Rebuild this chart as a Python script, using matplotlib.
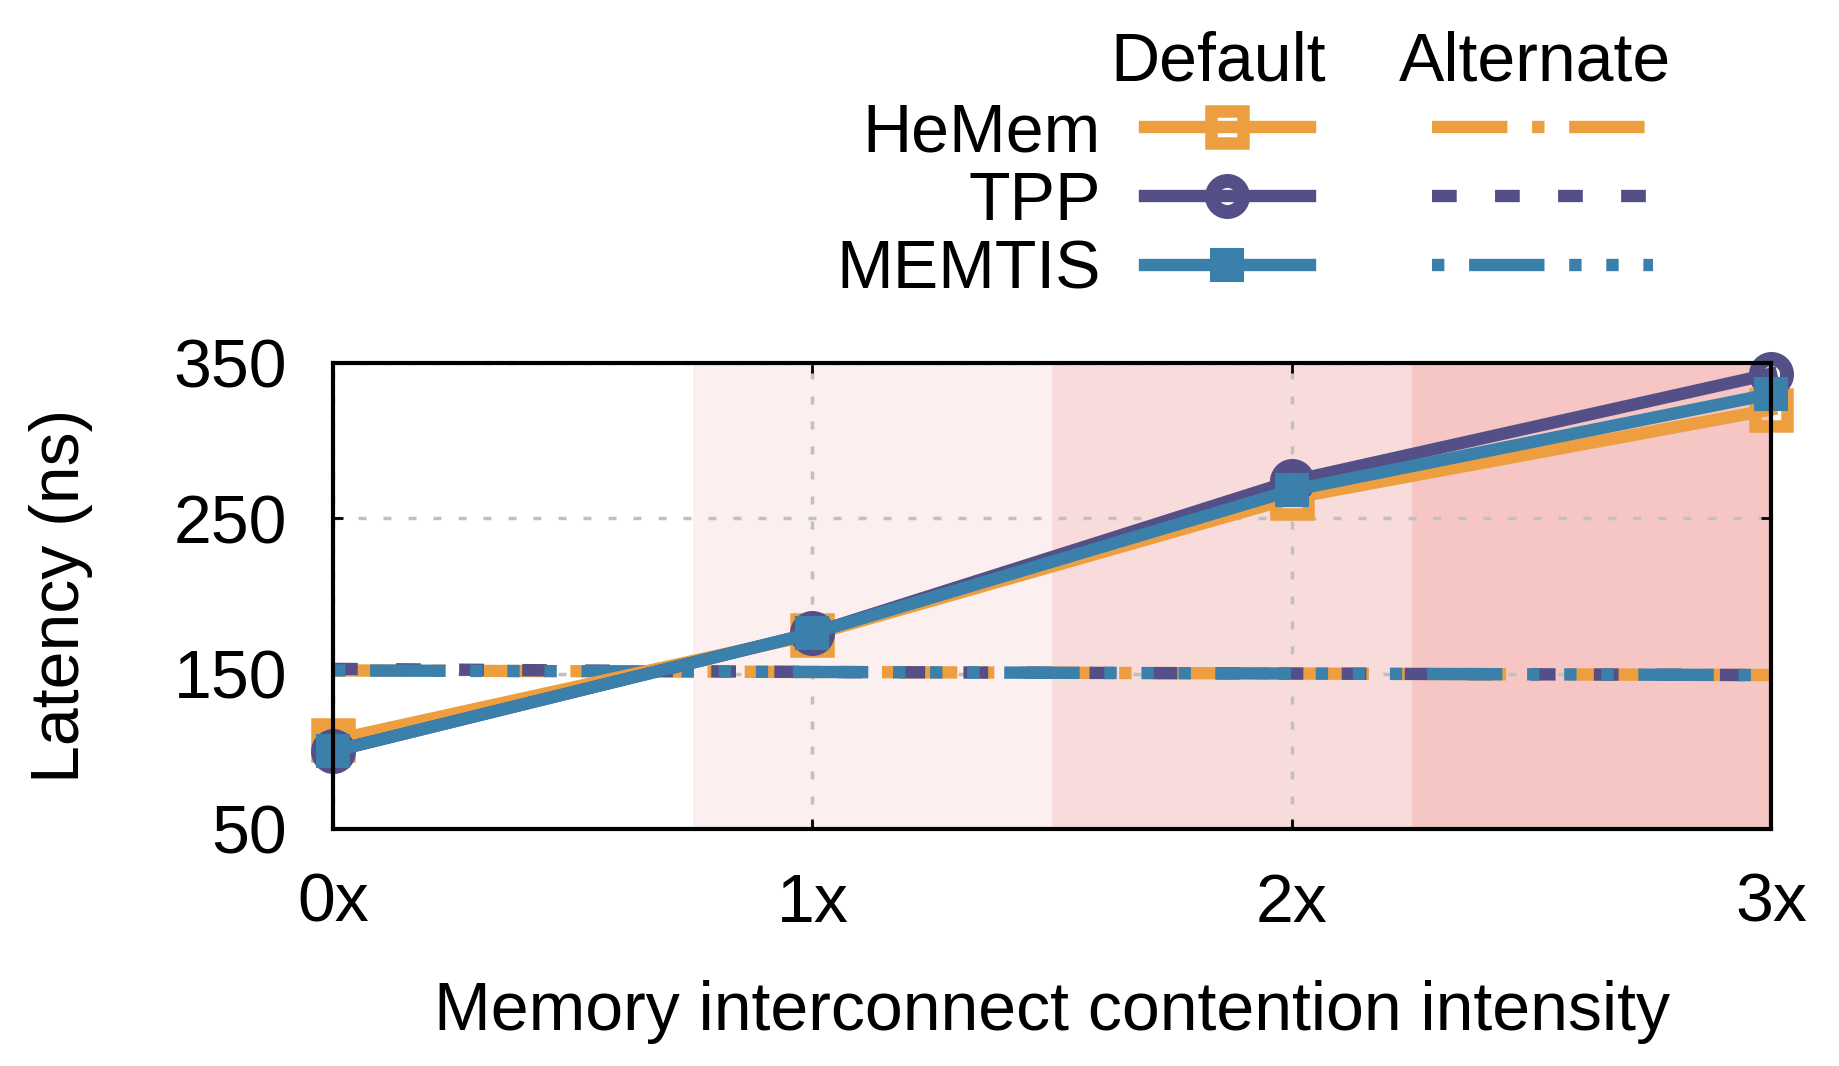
import numpy as np
import matplotlib.pyplot as plt
from matplotlib.lines import Line2D

plt.rcParams['font.family'] = ['Liberation Sans', 'DejaVu Sans']

# contention intensity levels
x = [0, 1, 2, 3]
xlabels = ["0x", "1x", "2x", "3x"]

hemem_def = [107, 175, 263, 320]
tpp_def = [100, 176, 274, 343]
memtis_def = [100, 176, 268, 330]

hemem_alt = [152, 151, 150, 149]
tpp_alt = [153, 151, 150, 149]
memtis_alt = [152, 151, 150, 149]

bands = [(0.75, 1.5), (1.5, 2.25), (2.25, 3.0)]
band_colors = ["#fcefef", "#f8dbdb", "#f5c6c4"]

c_hemem = "#ED9F40"
c_tpp = "#544F86"
c_memtis = "#3A80AA"

FS = 49
lw = 8.9

fig = plt.figure(figsize=(18.4, 10.66), dpi=100)
ax = fig.add_axes([0.181, 0.2225, 0.7815, 0.437])

for (a, b), c in zip(bands, band_colors):
    ax.axvspan(a, b, color=c, lw=0, zorder=0)

ax.set_xlim(0, 3)
ax.set_ylim(50, 350)
ax.set_xticks(x)
ax.set_xticklabels(xlabels)
ax.set_yticks([50, 150, 250, 350])
ax.grid(True, color="#c0c0c0", ls=(0, (2.3, 4.9)), lw=2.5, zorder=1)
ax.tick_params(direction="in", length=7, width=2, labelsize=FS,
               top=True, right=True)
ax.tick_params(axis="x", pad=31)
ax.tick_params(axis="y", pad=33)
for s in ax.spines.values():
    s.set_linewidth(3)
    s.set_zorder(10)

# marker styles (open square, open circle, filled square)
st_hemem = dict(color=c_hemem, lw=lw, marker="s", ms=23.4, mfc="none", mec=c_hemem, mew=9)
st_tpp = dict(color=c_tpp, lw=lw, marker="o", ms=22.4, mfc="none", mec=c_tpp, mew=10)
st_memtis = dict(color=c_memtis, lw=lw, marker="s", ms=23, mfc=c_memtis, mec=c_memtis, mew=1.5)

ax.plot(x, hemem_def, clip_on=False, zorder=5, **st_hemem)
ax.plot(x, tpp_def, clip_on=False, zorder=6, **st_tpp)
ax.plot(x, memtis_def, clip_on=False, zorder=7, **st_memtis)

d_hemem = (0, (6.1, 2.0, 1.0, 2.0))
d_tpp = (0, (2.0, 3.1))
d_memtis = (0, (1.0, 2.0, 6.1, 2.0, 1.0, 2.0, 1.0, 2.0))
ax.plot(x, hemem_alt, color=c_hemem, lw=lw, ls=d_hemem, zorder=4)
ax.plot(x, tpp_alt, color=c_tpp, lw=lw, ls=d_tpp, zorder=4)
ax.plot(x, memtis_alt, color=c_memtis, lw=lw, ls=d_memtis, zorder=4)

ax.set_ylabel("Latency (ns)", fontsize=FS, labelpad=58)
ax.set_xlabel("Memory interconnect contention intensity", fontsize=FS, labelpad=32)

# gnuplot-style key: labels + default samples, then alternate samples
names = ["HeMem", "TPP", "MEMTIS"]
h_def = [Line2D([], [], **st_hemem), Line2D([], [], **st_tpp), Line2D([], [], **st_memtis)]
h_alt = [
    Line2D([], [], color=c_hemem, lw=lw, ls=d_hemem),
    Line2D([], [], color=c_tpp, lw=lw, ls=d_tpp),
    Line2D([], [], color=c_memtis, lw=lw, ls=d_memtis),
]
leg1 = fig.legend(h_def, names, markerfirst=False, frameon=False, fontsize=FS,
                  handlelength=2.42, handletextpad=0.65, labelspacing=0.07,
                  borderpad=0, borderaxespad=0,
                  loc="upper right", bbox_to_anchor=(0.7118, 0.905))
leg2 = fig.legend(h_alt, ["", "", ""], frameon=False, fontsize=FS,
                  handlelength=3.25, handletextpad=0, labelspacing=0.07,
                  borderpad=0, borderaxespad=0,
                  loc="upper left", bbox_to_anchor=(0.778, 0.905))
fig.text(0.662, 0.9415, "Default", fontsize=FS, ha="center", va="center")
fig.text(0.834, 0.9415, "Alternate", fontsize=FS, ha="center", va="center")

fig.savefig("out.png", dpi=100)
